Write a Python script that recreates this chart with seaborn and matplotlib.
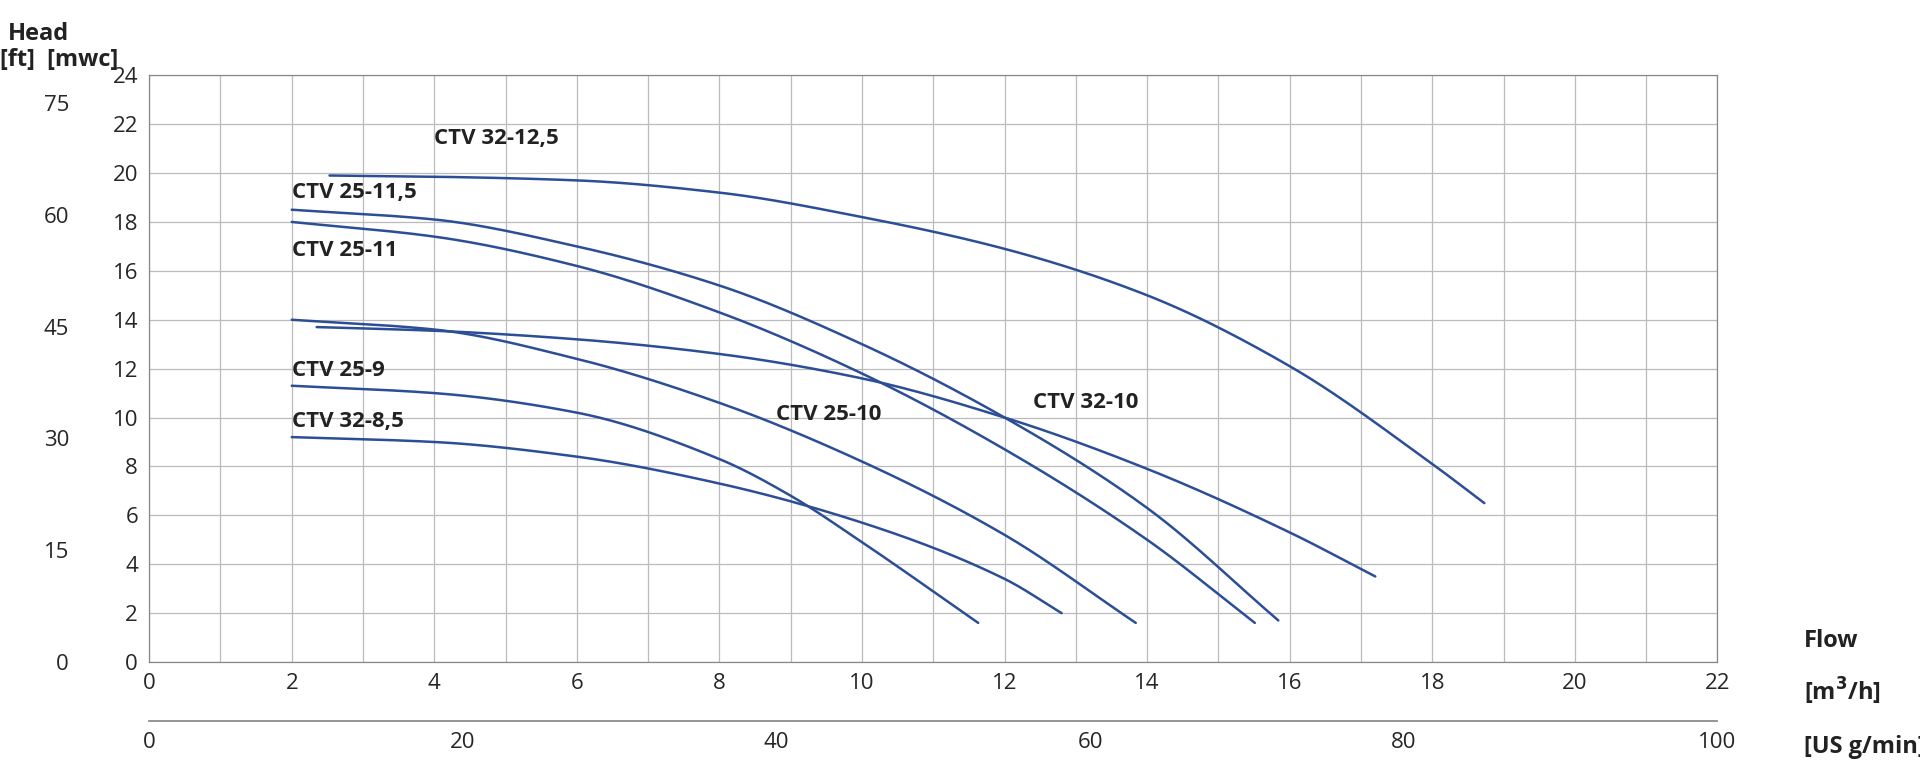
import numpy as np
import matplotlib.pyplot as plt
import seaborn as sns

sns.set_theme(style='white')
plt.rcParams['font.family'] = ['Open Sans', 'DejaVu Sans']

LINE = '#2b4e96'

# pump curves: flow [m3/h] -> head [mwc]
CURVES = {
    'CTV 32-12,5': ([2.53, 4, 6, 8, 10, 12, 14, 16, 18, 18.73],
                    [19.9, 19.85, 19.7, 19.2, 18.2, 16.9, 15.0, 12.1, 8.1, 6.5]),
    'CTV 25-11,5': ([2, 4, 6, 8, 10, 12, 14, 15.84],
                    [18.5, 18.1, 17.0, 15.4, 13.0, 10.0, 6.3, 1.7]),
    'CTV 25-11': ([2, 4, 6, 8, 10, 12, 14, 15.51],
                  [18.0, 17.4, 16.2, 14.3, 11.8, 8.7, 5.0, 1.6]),
    'CTV 25-10': ([2, 4, 6, 8, 10, 12, 13.84],
                  [14.0, 13.6, 12.4, 10.6, 8.2, 5.2, 1.6]),
    'CTV 32-10': ([2.35, 4, 6, 8, 10, 12, 14, 16, 17.2],
                  [13.7, 13.55, 13.2, 12.6, 11.6, 10.0, 7.9, 5.3, 3.5]),
    'CTV 25-9': ([2, 4, 6, 8, 9, 10, 11.63],
                 [11.3, 11.0, 10.2, 8.3, 6.8, 4.9, 1.6]),
    'CTV 32-8,5': ([2, 4, 6, 8, 10, 12, 12.8],
                   [9.2, 9.0, 8.4, 7.3, 5.7, 3.4, 2.0]),
}
LABELS = {
    'CTV 32-12,5': (4.0, 21.2), 'CTV 25-11,5': (2.0, 19.0), 'CTV 25-11': (2.0, 16.6),
    'CTV 25-10': (8.8, 9.9), 'CTV 32-10': (12.4, 10.4), 'CTV 25-9': (2.0, 11.7),
    'CTV 32-8,5': (2.0, 9.6),
}


def pchip(x, y, xs):
    # monotone cubic hermite through the read points
    x, y = np.asarray(x, float), np.asarray(y, float)
    h = np.diff(x); d = np.diff(y) / h
    m = np.zeros_like(y)
    for k in range(1, len(x) - 1):
        if d[k - 1] * d[k] > 0:
            w1, w2 = 2 * h[k] + h[k - 1], h[k] + 2 * h[k - 1]
            m[k] = (w1 + w2) / (w1 / d[k - 1] + w2 / d[k])
    m[0], m[-1] = d[0], d[-1]
    i = np.clip(np.searchsorted(x, xs) - 1, 0, len(h) - 1)
    t = (xs - x[i]) / h[i]
    return ((2 * t**3 - 3 * t**2 + 1) * y[i] + (t**3 - 2 * t**2 + t) * h[i] * m[i]
            + (-2 * t**3 + 3 * t**2) * y[i + 1] + (t**3 - t**2) * h[i] * m[i + 1])


fig = plt.figure(figsize=(19.2, 7.68), dpi=100)
ax = fig.add_axes([0.0777, 0.138, 0.8168, 0.764])

for name, (x, y) in CURVES.items():
    xs = np.linspace(x[0], x[-1], 300)
    sns.lineplot(x=xs, y=pchip(x, y, xs), ax=ax, color=LINE, linewidth=1.8)
    lx, ly = LABELS[name]
    ax.text(lx, ly, name, fontsize=16, fontweight='bold', color='#222222')

ax.set_xlim(0, 22)
ax.set_ylim(0, 24)
ax.set_xticks(range(0, 23, 2))
ax.set_xticks(range(0, 23, 1), minor=True)
ax.set_yticks(range(0, 25, 2))
ax.grid(True, which='both', axis='x', color='#bbbbbb', linewidth=0.9)
ax.grid(True, axis='y', color='#bbbbbb', linewidth=0.9)
for s in ax.spines.values():
    s.set_color('#888888')
    s.set_linewidth(0.9)
ax.tick_params(length=0, labelsize=16, pad=8)

# ft axis on the left
ft = ax.secondary_yaxis(-0.048, functions=(lambda m: m / 0.3048, lambda f: f * 0.3048))
ft.set_yticks([0, 15, 30, 45, 60, 75])
ft.spines['left'].set_visible(False)
ft.tick_params(length=0, labelsize=16)

# US gpm axis below
gpm = ax.secondary_xaxis(-0.1, functions=(lambda q: q * 100 / 22, lambda g: g * 22 / 100))
gpm.set_xticks(range(0, 101, 20))
gpm.spines['bottom'].set_color('#888888')
gpm.tick_params(length=0, labelsize=16, pad=8)

kw = dict(transform=ax.transAxes, fontsize=17, fontweight='bold', color='#222222')
ax.text(-0.09, 1.06, 'Head', **kw)
ax.text(-0.095, 1.015, '[ft]  [mwc]', **kw)
ax.text(1.055, 0.025, 'Flow', **kw)
ax.text(1.055, -0.065, '[m$^\\mathbf{3}$/h]', **kw)
ax.text(1.055, -0.155, '[US g/min]', **kw)

fig.savefig('out.png', dpi=100)
